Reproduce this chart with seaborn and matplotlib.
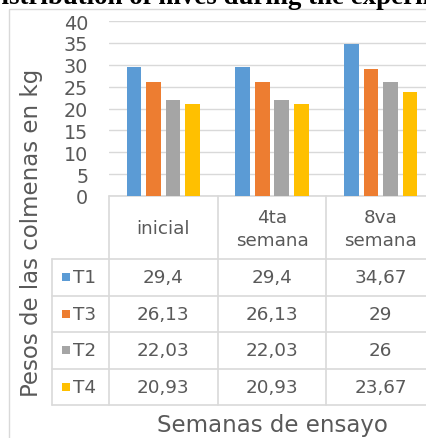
import matplotlib
matplotlib.use("Agg")
import matplotlib.pyplot as plt
import numpy as np
import pandas as pd
import seaborn as sns
from matplotlib.patches import Rectangle
from matplotlib.transforms import blended_transform_factory

# --- data -------------------------------------------------------------
semanas = ["inicial", "4ta\nsemana", "8va\nsemana"]
tratamientos = ["T1", "T3", "T2", "T4"]
peso_t1 = [29.4, 29.4, 34.67]
peso_t3 = [26.13, 26.13, 29]
peso_t2 = [22.03, 22.03, 26]
peso_t4 = [20.93, 20.93, 23.67]
y_ticks = [0, 5, 10, 15, 20, 25, 30, 35, 40]
colores = ["#5B9BD5", "#ED7D31", "#A5A5A5", "#FFC000"]

titulo = "Distribution of hives during the experiment"
y_label = "Pesos de las colmenas en kg"
x_label = "Semanas de ensayo"

series = dict(zip(tratamientos, [peso_t1, peso_t3, peso_t2, peso_t4]))
df = pd.DataFrame(
    [(s, t, v) for t, vals in series.items() for s, v in zip(semanas, vals)],
    columns=["Semana", "Tratamiento", "Peso"],
)

# --- style ------------------------------------------------------------
sns.set_theme(style="white")
plt.rcParams["font.family"] = ["DejaVu Sans"]
TXT = "#595959"
GRID = "#D9D9D9"

W, H = 426, 439
fig = plt.figure(figsize=(W / 100, H / 100), dpi=100)
fig.patch.set_facecolor("white")

# full-figure overlay in pixel units (y grows downward)
ov = fig.add_axes([0, 0, 1, 1], zorder=0)
ov.set_xlim(0, W)
ov.set_ylim(H, 0)
ov.axis("off")

# chart frame
ov.add_patch(Rectangle((9, 10), W + 20, H + 20, fill=False,
                       edgecolor=GRID, lw=1.0))

# title line partly above the canvas
ov.text(-18.5, 4, titulo, fontsize=19.35, fontweight="bold",
        family="Liberation Serif", color="black", ha="left", va="baseline")

# --- bar plot -----------------------------------------------------------
left, right, top, bottom = 109, 435, 22, 197
ax = fig.add_axes([left / W, 1 - bottom / H, (right - left) / W,
                   (bottom - top) / H], zorder=2)
ax.patch.set_alpha(0)
sns.barplot(data=df, x="Semana", y="Peso", hue="Tratamiento",
            hue_order=tratamientos, palette=colores, saturation=1,
            width=0.72, gap=0.25, linewidth=0, legend=False, ax=ax,
            zorder=3)
ax.set_xlim(-0.5, len(semanas) - 0.5)
ax.set_ylim(0, 40)
ax.set_yticks(y_ticks)
ax.set_yticklabels([str(t) for t in y_ticks])
ax.tick_params(axis="y", length=0, pad=15, labelsize=13.8, labelcolor=TXT)
ax.tick_params(axis="x", length=0, labelbottom=False)
ax.set_xlabel("")
ax.set_ylabel("")
for sp in ax.spines.values():
    sp.set_visible(False)
ax.yaxis.grid(True, color=GRID, lw=1.0, zorder=0)
ax.set_axisbelow(True)

# --- data table below the bars ----------------------------------------
tr = blended_transform_factory(ax.transData, ov.transData)
fs = 13.2
row_top = 260
row_h = 36.5
leg_left = 52

# horizontal rules
ov.plot([left, W + 10], [bottom, bottom], color=GRID, lw=1.2, zorder=1)
for i in range(len(tratamientos) + 1):
    y = row_top + i * row_h
    ov.plot([leg_left, W + 10], [y, y], color=GRID, lw=1.2, zorder=1)
# vertical rules
table_bottom = row_top + len(tratamientos) * row_h
ov.plot([leg_left, leg_left], [row_top, table_bottom], color=GRID, lw=1.2)
for k in range(len(semanas) + 1):
    ov.plot([k - 0.5, k - 0.5], [bottom, table_bottom], color=GRID,
            lw=1.2, transform=tr)

# header: category names
for k, s in enumerate(semanas):
    ov.text(k, (bottom + row_top) / 2 + 1, s, transform=tr, ha="center",
            va="center", fontsize=fs, color=TXT, linespacing=1.35)

# body rows: legend key + values
for i, (t, col) in enumerate(zip(tratamientos, colores)):
    yc = row_top + (i + 0.5) * row_h
    ov.add_patch(Rectangle((62, yc - 4), 8, 8, facecolor=col,
                           edgecolor="none"))
    ov.text(73, yc, t, ha="left", va="center", fontsize=fs, color=TXT)
    for k, v in enumerate(series[t]):
        ov.text(k, yc, f"{v:g}".replace(".", ","), transform=tr,
                ha="center", va="center", fontsize=fs, color=TXT)

# axis titles
ov.text(32, 233, y_label, rotation=90, ha="center", va="center",
        fontsize=16.5, color=TXT)
ov.text(272, 426, x_label, ha="center", va="center", fontsize=16.5,
        color=TXT)

fig.savefig("out.png", dpi=100)
